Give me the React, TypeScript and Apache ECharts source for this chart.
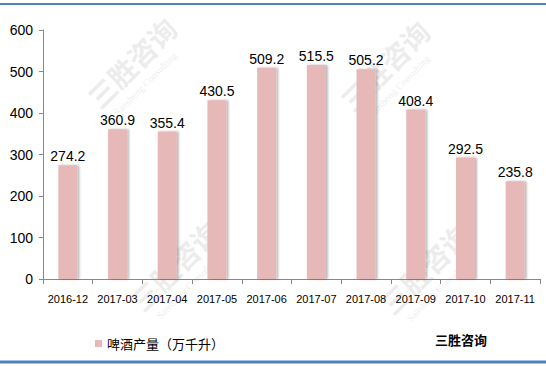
import React, { useEffect, useRef } from "react";
import * as echarts from "echarts";

const months = ["2016-12", "2017-03", "2017-04", "2017-05", "2017-06", "2017-07", "2017-08", "2017-09", "2017-10", "2017-11"];
const output = [274.2, 360.9, 355.4, 430.5, 509.2, 515.5, 505.2, 408.4, 292.5, 235.8];
const seriesName = "啤酒产量（万千升）";
const brand = "三胜咨询";

const font = "'Liberation Sans', 'Noto Sans CJK SC', sans-serif";

// Faint diagonal brand stamp laid over the plot
function watermark(x: number, y: number) {
  return {
    type: "group",
    x,
    y,
    rotation: Math.PI / 4,
    silent: true,
    z: 0,
    children: [
      {
        type: "text",
        x: 0,
        y: 0,
        style: { text: brand, font: "bold 28px 'Noto Sans CJK SC'", fill: "rgba(200,200,200,0.35)" },
      },
      {
        type: "text",
        x: 8,
        y: 34,
        style: { text: "Sansheng Consulting", font: "10px 'Liberation Serif'", fill: "rgba(200,200,200,0.35)" },
      },
    ],
  };
}

export default function App() {
  const ref = useRef<HTMLDivElement>(null);
  useEffect(() => {
    const chart = echarts.init(ref.current!, null, { renderer: "svg" });
    chart.setOption({
      animation: false,
      backgroundColor: "#fff",
      textStyle: { fontFamily: font },
      grid: { left: 43, right: 6, top: 30, bottom: 87 },
      legend: {
        left: 90,
        top: 332,
        itemWidth: 7,
        itemHeight: 7,
        itemGap: 4,
        icon: "rect",
        textStyle: { fontSize: 13, color: "#000", fontFamily: "'Noto Sans CJK SC'" },
        data: [seriesName],
      },
      xAxis: {
        type: "category",
        data: months,
        axisLine: { lineStyle: { color: "#888" } },
        axisTick: { show: true, length: 5, lineStyle: { color: "#888" } },
        axisLabel: { color: "#000", fontSize: 11, margin: 14, interval: 0 },
      },
      yAxis: {
        type: "value",
        min: 0,
        max: 600,
        interval: 100,
        axisLine: { show: true, lineStyle: { color: "#888" } },
        axisTick: { show: true, length: 4, lineStyle: { color: "#888" } },
        splitLine: { show: false },
        axisLabel: { color: "#000", fontSize: 14, margin: 10 },
      },
      series: [
        {
          name: seriesName,
          type: "bar",
          data: output,
          barWidth: 19,
          itemStyle: {
            color: "#E6B9B8",
            shadowColor: "rgba(0,0,0,0.28)",
            shadowOffsetX: 2,
            shadowOffsetY: 0,
            shadowBlur: 2,
          },
          label: {
            show: true,
            position: "top",
            distance: 2,
            color: "#000",
            fontSize: 14,
            formatter: (p: any) => p.value.toFixed(1),
          },
        },
      ],
      graphic: [
        { type: "line", shape: { x1: 0, y1: 4, x2: 546, y2: 4 }, style: { stroke: "#4F81BD", lineWidth: 2 }, silent: true },
        { type: "line", shape: { x1: 0, y1: 362, x2: 546, y2: 362 }, style: { stroke: "#4F81BD", lineWidth: 3 }, silent: true },
        {
          type: "text",
          left: 435,
          top: 333,
          style: { text: brand, font: "bold 13px 'Noto Sans CJK SC'", fill: "#000" },
        },
        watermark(82, 92),
        watermark(335, 95),
        watermark(125, 295),
        watermark(375, 298),
      ],
    });
    return () => chart.dispose();
  }, []);
  return <div ref={ref} style={{ width: 546, height: 366, position: "absolute", left: 0, top: 0 }} />;
}
